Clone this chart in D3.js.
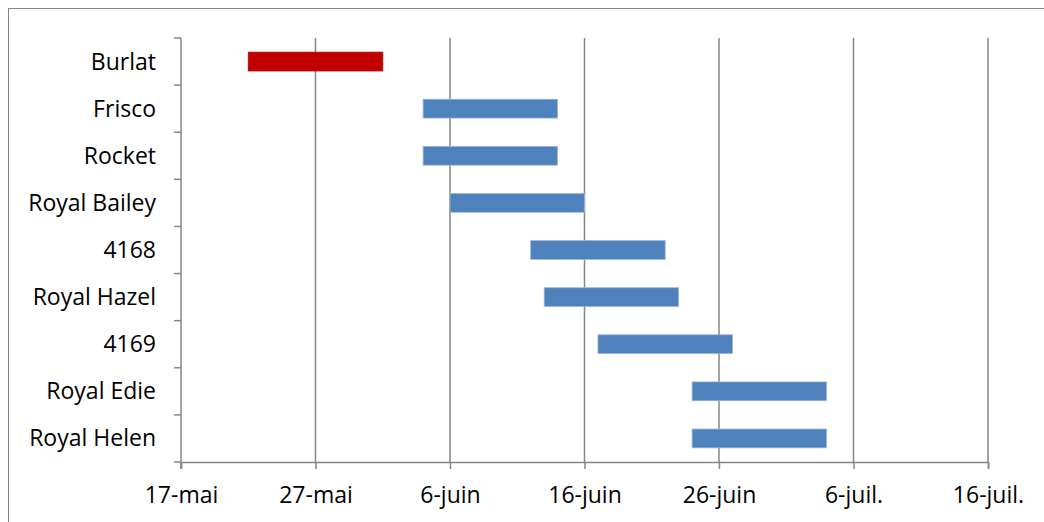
<!DOCTYPE html>
<html>
<head>
<meta charset="utf-8">
<script src="https://cdnjs.cloudflare.com/ajax/libs/d3/7.8.5/d3.min.js"></script>
<style>
  body { margin: 0; background: #fff; }
  svg { display: block; font-family: "Open Sans", Lato, sans-serif; }
</style>
</head>
<body>
<svg width="1044" height="522"></svg>
<script>
// varieties, harvest start and end dates
var varieties = ['Burlat', 'Frisco', 'Rocket', 'Royal Bailey', '4168', 'Royal Hazel', '4169', 'Royal Edie', 'Royal Helen'];
var startDates = ['2013-05-22', '2013-06-04', '2013-06-04', '2013-06-06', '2013-06-12', '2013-06-13', '2013-06-17', '2013-06-24', '2013-06-24'];
var endDates = ['2013-06-01', '2013-06-14', '2013-06-14', '2013-06-16', '2013-06-22', '2013-06-23', '2013-06-27', '2013-07-04', '2013-07-04'];
var tickDates = ['2013-05-17', '2013-05-27', '2013-06-06', '2013-06-16', '2013-06-26', '2013-07-06', '2013-07-16'];
var monthNames = ['janv.', 'févr.', 'mars', 'avr.', 'mai', 'juin', 'juil.', 'août', 'sept.', 'oct.', 'nov.', 'déc.'];

var parse = d3.timeParse('%Y-%m-%d');
var svg = d3.select('svg');

var plotLeft = 181, plotRight = 988, plotTop = 38, plotBottom = 462;
var fontSize = 23;

var x = d3.scaleTime()
  .domain([parse(tickDates[0]), parse(tickDates[tickDates.length - 1])])
  .range([plotLeft, plotRight]);

var y = d3.scaleBand()
  .domain(varieties)
  .range([plotTop, plotBottom])
  .paddingInner(0.6)
  .paddingOuter(0.3);

var grey = '#868686';

// outer frame
svg.append('rect')
  .attr('x', 8.5).attr('y', 8.5)
  .attr('width', 1100).attr('height', 600)
  .attr('fill', 'none').attr('stroke', grey).attr('stroke-width', 1);

// vertical gridlines
svg.append('g').selectAll('line')
  .data(tickDates.slice(1))
  .enter().append('line')
  .attr('x1', function (d) { return x(parse(d)); })
  .attr('x2', function (d) { return x(parse(d)); })
  .attr('y1', plotTop).attr('y2', plotBottom)
  .attr('stroke', grey).attr('stroke-width', 1.5);

// bars
var data = varieties.map(function (v, i) {
  return {name: v, start: parse(startDates[i]), end: parse(endDates[i])};
});

svg.append('g').selectAll('rect')
  .data(data)
  .enter().append('rect')
  .attr('x', function (d) { return x(d.start); })
  .attr('width', function (d) { return x(d.end) - x(d.start); })
  .attr('y', function (d) { return y(d.name); })
  .attr('height', y.bandwidth())
  .attr('fill', function (d, i) { return i === 0 ? '#C00000' : '#4F81BD'; })
  .attr('stroke', function (d, i) { return i === 0 ? '#C00000' : '#9DB8DC'; })
  .attr('stroke-width', 0.8);

// x axis
var xAxis = d3.axisBottom(x)
  .tickValues(tickDates.map(parse))
  .tickSize(7)
  .tickPadding(18)
  .tickFormat(function (d) { return d.getDate() + '-' + monthNames[d.getMonth()]; });

var gx = svg.append('g')
  .attr('transform', 'translate(0,' + plotBottom + ')')
  .call(xAxis);
gx.attr('font-size', fontSize).attr('font-family', null);
gx.select('.domain').attr('stroke', grey).attr('stroke-width', 1.5);
gx.selectAll('.tick line').attr('stroke', grey).attr('stroke-width', 1.5);
gx.selectAll('.tick text').attr('fill', '#000');

// y axis: line, ticks at band boundaries, labels centred on bands
svg.append('line')
  .attr('x1', plotLeft).attr('x2', plotLeft)
  .attr('y1', plotTop).attr('y2', plotBottom + 7)
  .attr('stroke', grey).attr('stroke-width', 1.5);

var step = (plotBottom - plotTop) / varieties.length;
svg.append('g').selectAll('line')
  .data(d3.range(varieties.length + 1))
  .enter().append('line')
  .attr('x1', plotLeft - 7).attr('x2', plotLeft)
  .attr('y1', function (d) { return plotTop + d * step; })
  .attr('y2', function (d) { return plotTop + d * step; })
  .attr('stroke', grey).attr('stroke-width', 1.5);

svg.append('g').selectAll('text')
  .data(varieties)
  .enter().append('text')
  .attr('x', 156)
  .attr('y', function (d) { return y(d) + y.bandwidth() / 2; })
  .attr('dy', '0.35em')
  .attr('text-anchor', 'end')
  .attr('font-size', fontSize)
  .attr('fill', '#000')
  .text(function (d) { return d; });
</script>
</body>
</html>
